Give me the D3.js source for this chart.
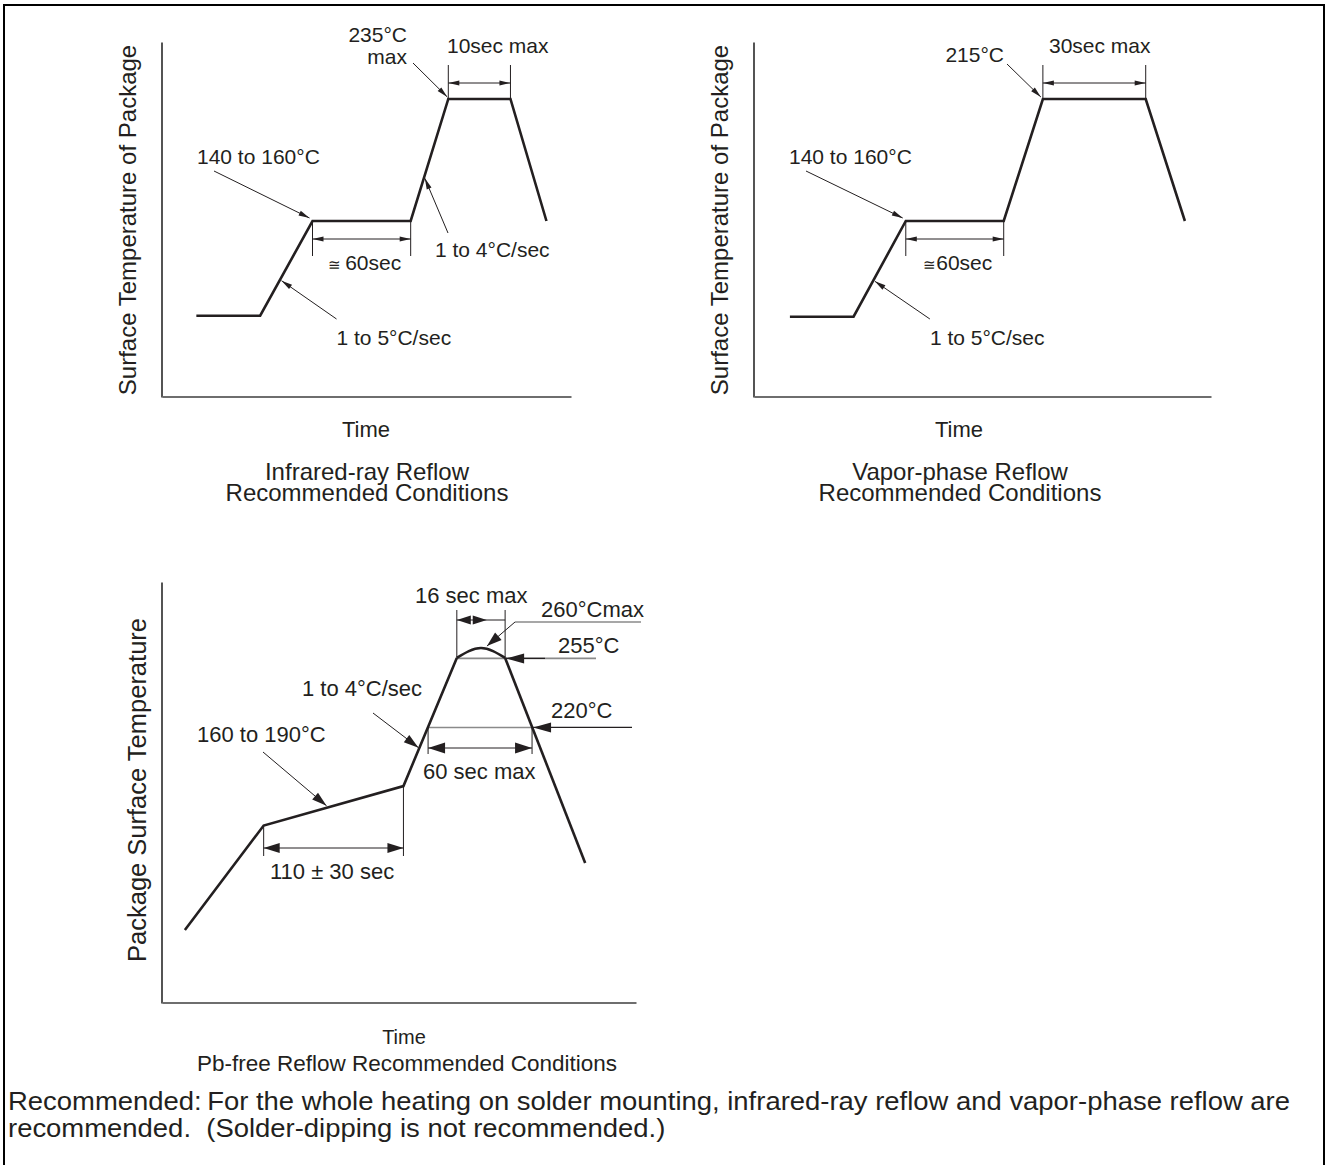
<!DOCTYPE html>
<html>
<head>
<meta charset="utf-8">
<script src="https://cdn.jsdelivr.net/npm/d3@7"></script>
<style>
  html, body { margin: 0; padding: 0; background: #fff; }
  text { font-family: "Liberation Sans", Arial, Helvetica, sans-serif; fill: #231f20; }
</style>
</head>
<body>
<svg id="fig" width="1326" height="1165"></svg>
<script>
// ---- Reflow profiles (schematic time units, temperature in °C) ----
const irTime = [21, 60, 92, 152, 175, 213, 235];
const irTemp = [84, 84, 150, 150, 235, 235, 150];

const vpTime = [22, 61, 93, 153, 177, 240, 264];
const vpTemp = [99, 99, 150, 150, 215, 215, 150];

const pbTime = [18, 80, 190, 232, 251, 270, 333];
const pbTemp = [117, 170, 190, 255, 260, 255, 151];

// reference temperature levels drawn on the Pb-free chart
const pbLevels = [260, 255, 220];

// ---- Text ----
const irTitle = ["Infrared-ray Reflow", "Recommended Conditions"];
const vpTitle = ["Vapor-phase Reflow", "Recommended Conditions"];
const pbTitle = "Pb-free Reflow Recommended Conditions";
const yTitleSmd = "Surface Temperature of Package";
const yTitlePb = "Package Surface Temperature";
const xTitle = "Time";
const footer = [
  "Recommended:\u2009For the whole heating on solder mounting, infrared-ray reflow and vapor-phase reflow are",
  "recommended.\u00a0 (Solder-dipping is not recommended.)"
];

const INK = "#231f20";
const GREY = "#8a8a8a";
const FS = 21;

const svg = d3.select("#fig");
svg.append("rect").attr("width", 1326).attr("height", 1165).attr("fill", "#fff");

// page frame (bottom edge runs off the page)
svg.append("path")
  .attr("d", "M4,1175V5H1324V1175")
  .attr("fill", "none").attr("stroke", "#000").attr("stroke-width", 2);

// ---- helpers ----
function arrowHead(g, tip, from, len, hw) {
  const dx = tip[0] - from[0], dy = tip[1] - from[1];
  const d = Math.hypot(dx, dy), ux = dx / d, uy = dy / d;
  const bx = tip[0] - ux * len, by = tip[1] - uy * len;
  g.append("path")
    .attr("d", `M${tip[0]},${tip[1]}L${bx - uy * hw},${by + ux * hw}L${bx + uy * hw},${by - ux * hw}Z`)
    .attr("fill", INK);
}
function seg(g, a, b, w, col) {
  g.append("line").attr("x1", a[0]).attr("y1", a[1]).attr("x2", b[0]).attr("y2", b[1])
    .attr("stroke", col || INK).attr("stroke-width", w || 1);
}
function leader(g, from, tip, len, hw) {
  seg(g, from, tip, 1);
  arrowHead(g, tip, from, len || 11, hw || 2.6);
}
function dimension(g, x1, x2, y, len, hw) {
  seg(g, [x1, y], [x2, y], 1);
  arrowHead(g, [x1, y], [x2, y], len, hw);
  arrowHead(g, [x2, y], [x1, y], len, hw);
}
function lerp(a, b, f) { return [a[0] + (b[0] - a[0]) * f, a[1] + (b[1] - a[1]) * f]; }
function label(g, txt, x, y, anchor, size) {
  return g.append("text").attr("x", x).attr("y", y)
    .attr("text-anchor", anchor || "start")
    .attr("font-size", size || FS).text(txt);
}
function axes(g, x, y, x0, y0) {
  g.append("g").attr("transform", `translate(${x0 - 0.5},0)`)
    .call(d3.axisLeft(y).tickValues([]).tickSizeOuter(0))
    .call(s => s.select(".domain").attr("stroke", "#2a2a2a").attr("stroke-width", 1.6));
  g.append("g").attr("transform", `translate(0,${y0 - 0.5})`)
    .call(d3.axisBottom(x).tickValues([]).tickSizeOuter(0))
    .call(s => s.select(".domain").attr("stroke", "#6e6e6e").attr("stroke-width", 2));
}
function yTitle(g, txt, x, cy, size) {
  g.append("text").attr("transform", `translate(${x},${cy}) rotate(-90)`)
    .attr("text-anchor", "middle").attr("font-size", size).text(txt);
}
function approx(g, x, y, gap) {
  const t = g.append("text").attr("x", x).attr("y", y).attr("text-anchor", "middle").attr("font-size", FS);
  t.append("tspan").attr("font-size", 15).text("\u2245");
  t.append("tspan").text(gap + "60sec");
}

// ---- soldering profile with plateau (IR and vapour-phase share the layout) ----
function plateauChart(opts) {
  const g = svg.append("g");
  const x = d3.scaleLinear().domain(opts.xDomain).range(opts.xRange);
  const y = d3.scaleLinear().domain(opts.yDomain).range([397, 42]);
  axes(g, x, y, opts.xRange[0], 397);

  const pts = opts.time.map((t, i) => [x(t), y(opts.temp[i])]);
  g.append("path").datum(pts)
    .attr("d", d3.line())
    .attr("fill", "none").attr("stroke", INK).attr("stroke-width", 2.6)
    .attr("stroke-linejoin", "miter");

  // preheat plateau dimension
  const [p2, p3, p4, p5] = [pts[2], pts[3], pts[4], pts[5]];
  seg(g, [p2[0], p2[1]], [p2[0], p2[1] + 35]);
  seg(g, [p3[0], p3[1]], [p3[0], p3[1] + 35]);
  dimension(g, p2[0], p3[0], p2[1] + 18, 11, 2.6);
  approx(g, (p2[0] + p3[0]) / 2 + 3, p2[1] + 49, opts.gap);

  // peak plateau dimension
  seg(g, [p4[0], 65], [p4[0], p4[1]]);
  seg(g, [p5[0], 65], [p5[0], p5[1]]);
  dimension(g, p4[0], p5[0], 83, 11, 2.6);
  label(g, opts.peakTime, opts.peakTimeX, 53);

  // preheat temperature callout
  label(g, "140 to 160\u00b0C", opts.xRange[0] + 35, 164);
  leader(g, [opts.xRange[0] + 52, 171], [p2[0] - 3, p2[1] - 3]);

  // first ramp rate
  const r1 = lerp(pts[1], pts[2], 0.37);
  label(g, "1 to 5\u00b0C/sec", r1[0] + 57, 345);
  leader(g, [r1[0] + 57, 319], [r1[0] + 2, r1[1]]);

  opts.extra(g, pts);

  label(g, xTitle, opts.timeX, 437, "middle", 22);
  label(g, opts.title[0], opts.timeX + 1, 480, "middle", 24);
  label(g, opts.title[1], opts.timeX + 1, 501, "middle", 24);
  yTitle(g, yTitleSmd, opts.xRange[0] - 26, 220, 24);
}

plateauChart({
  time: irTime, temp: irTemp,
  xDomain: [0, 250], xRange: [162, 571], yDomain: [27.4, 274.7],
  peakTime: "10sec max", peakTimeX: 447,
  timeX: 366, title: irTitle, gap: "\u2009",
  extra: (g, pts) => {
    label(g, "235\u00b0C", 407, 42, "end");
    label(g, "max", 407, 64, "end");
    leader(g, [413, 63], [pts[4][0] - 1, pts[4][1] - 2]);
    const r2 = lerp(pts[3], pts[4], 0.35);
    label(g, "1 to 4\u00b0C/sec", 435, 257);
    leader(g, [448, 233], [r2[0] + 1, r2[1]]);
  }
});

plateauChart({
  time: vpTime, temp: vpTemp,
  xDomain: [0, 280], xRange: [754, 1211], yDomain: [56.2, 245.4],
  peakTime: "30sec max", peakTimeX: 1049,
  timeX: 959, title: vpTitle, gap: "",
  extra: (g, pts) => {
    label(g, "215\u00b0C", 1004, 62, "end");
    leader(g, [1007, 64], [pts[4][0] - 2, pts[4][1] - 2]);
  }
});

// ---- Pb-free profile ----
(function () {
  const g = svg.append("g");
  const F3 = 22;
  const x = d3.scaleLinear().domain([0, 373]).range([162, 636]);
  const y = d3.scaleLinear().domain([80, 293.5]).range([1003, 582]);
  axes(g, x, y, 162, 1003);

  const pts = pbTime.map((t, i) => [x(t), y(pbTemp[i])]);
  const [yPeak, y255, y220] = pbLevels.map(y);

  // where the ramps cross 220 °C
  const upF = (pbLevels[2] - pbTemp[2]) / (pbTemp[3] - pbTemp[2]);
  const dnF = (pbTemp[5] - pbLevels[2]) / (pbTemp[5] - pbTemp[6]);
  const up220 = lerp(pts[2], pts[3], upF);
  const dn220 = lerp(pts[5], pts[6], dnF);

  // level lines (grey)
  seg(g, [pts[3][0], y255 + 0.5], [596, y255 + 0.5], 1.6, GREY);
  seg(g, [up220[0], y220 + 0.5], [dn220[0], y220 + 0.5], 1.6, GREY);
  seg(g, [515, 622], [641, 622], 1.6, GREY);

  // profile: straight ramps with a rounded peak
  const line = d3.line();
  g.append("path").datum(pts.slice(0, 4)).attr("d", line)
    .attr("fill", "none").attr("stroke", INK).attr("stroke-width", 2.6).attr("stroke-linejoin", "miter");
  g.append("path").datum(pts.slice(3, 6)).attr("d", d3.line().curve(d3.curveNatural))
    .attr("fill", "none").attr("stroke", INK).attr("stroke-width", 2.6);
  g.append("path").datum(pts.slice(5, 7)).attr("d", line)
    .attr("fill", "none").attr("stroke", INK).attr("stroke-width", 2.6);

  // preheat duration
  const [k1, k2] = [pts[1], pts[2]];
  seg(g, [k1[0], k1[1]], [k1[0], 856]);
  seg(g, [k2[0], k2[1]], [k2[0], 856]);
  dimension(g, k1[0], k2[0], 848, 16, 5);
  label(g, "110 \u00b1 30 sec", 270, 879, "start", F3);

  // time above 220 °C
  seg(g, [up220[0], y220], [up220[0], 754]);
  seg(g, [dn220[0], y220], [dn220[0], 754]);
  dimension(g, up220[0], dn220[0], 748, 17, 5.5);
  label(g, "60 sec max", 423, 779, "start", F3);

  // time near peak
  const [d1, d2] = [pts[3], pts[5]];
  seg(g, [d1[0], 610], [d1[0], d1[1]]);
  seg(g, [d2[0], 610], [d2[0], d2[1]]);
  seg(g, [d1[0], 620], [d2[0], 620]);
  arrowHead(g, [d1[0], 620], [d2[0], 620], 14, 4.5);
  const mid = d1[0] + (d2[0] - d1[0]) * 0.62;
  arrowHead(g, [mid, 620], [d1[0], 620], 14, 4.5);
  label(g, "16 sec max", 415, 603, "start", F3);

  // peak temperature callouts
  label(g, "260\u00b0Cmax", 541, 617, "start", F3);
  leader(g, [515, 622], [pts[4][0] + 6, yPeak - 2], 15, 5);
  label(g, "255\u00b0C", 558, 653, "start", F3);
  seg(g, [pts[5][0], y255 + 0.5], [545, y255 + 0.5], 1.2, INK);
  arrowHead(g, [pts[5][0] + 1, y255 + 0.5], [545, y255 + 0.5], 18, 5);
  label(g, "220\u00b0C", 551, 718, "start", F3);
  seg(g, [dn220[0], y220 + 0.5], [632, y220 + 0.5], 1.2, INK);
  arrowHead(g, [dn220[0] + 1, y220 + 0.5], [632, y220 + 0.5], 18, 5);

  // ramp rate and preheat range
  const r = lerp(pts[2], pts[3], 0.3);
  label(g, "1 to 4\u00b0C/sec", 302, 696, "start", F3);
  leader(g, [373, 713], [r[0] - 1, r[1]], 15, 4.5);
  const s = lerp(pts[1], pts[2], 0.45);
  label(g, "160 to 190\u00b0C", 197, 742, "start", F3);
  leader(g, [263, 752], [s[0], s[1] - 2], 15, 4.5);

  label(g, xTitle, 404, 1044, "middle", 20);
  label(g, pbTitle, 407, 1071, "middle", 22.5);
  yTitle(g, yTitlePb, 146, 790, 25.5);
})();

// ---- footnote: slightly widened type, first line spans the frame ----
const foot = [
  label(svg, footer[0], 8, 1110, "start", 25),
  label(svg, footer[1], 8, 1137, "start", 25)
];
const widen = 1282 / foot[0].node().getComputedTextLength();
foot.forEach(t => t.attr("textLength", t.node().getComputedTextLength() * widen)
  .attr("lengthAdjust", "spacingAndGlyphs"));
</script>
</body>
</html>
